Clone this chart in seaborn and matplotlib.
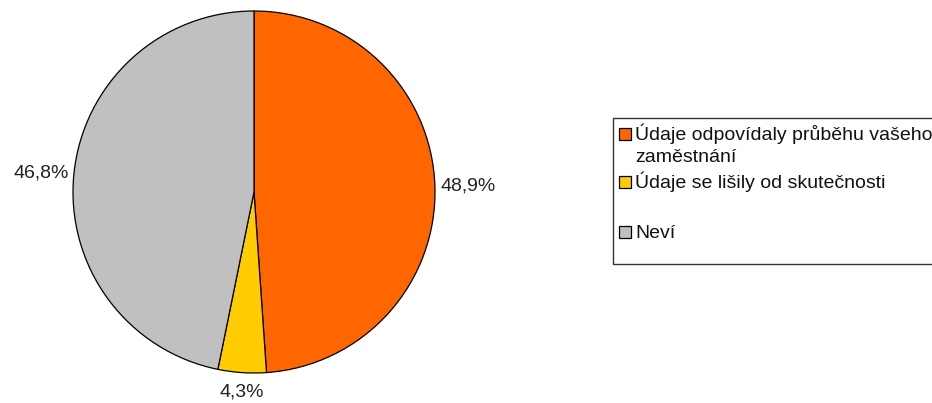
import matplotlib
matplotlib.use("Agg")
import matplotlib.pyplot as plt
from matplotlib.patches import Rectangle
import numpy as np
import seaborn as sns

categories = ["Údaje odpovídaly průběhu vašeho\nzaměstnání",
              "Údaje se lišily od skutečnosti",
              "Neví"]
values = [48.9, 4.3, 46.8]
value_labels = ["48,9%", "4,3%", "46,8%"]
colors = ["#FF6600", "#FFCC00", "#C0C0C0"]

sns.set_theme(style="white")
plt.rcParams['font.family'] = ['Liberation Sans', 'DejaVu Sans']

W, H = 932, 403
fig = plt.figure(figsize=(W / 100, H / 100), dpi=100)
fig.patch.set_facecolor("white")

def fx(px):
    return px / W

def fy(py):
    return 1 - py / H

cx, cy, r = 254, 192, 181
ax = fig.add_axes([fx(cx - r), fy(cy + r), 2 * r / W, 2 * r / H])
wedges, _ = ax.pie(values, colors=colors, startangle=90, counterclock=False,
                   radius=1.0,
                   wedgeprops=dict(edgecolor="black", linewidth=0.9))
ax.set_xlim(-1, 1)
ax.set_ylim(-1, 1)
ax.set_aspect("equal")
ax.axis("off")

for w, lab in zip(wedges, value_labels):
    ang = np.deg2rad((w.theta1 + w.theta2) / 2)
    c, s = np.cos(ang), np.sin(ang)
    rr = 1.03
    if abs(s) > 0.7:
        ha = "center"
        va = "top" if s < 0 else "bottom"
        rr = 1.06
    else:
        ha = "left" if c > 0 else "right"
        va = "center"
    ax.text(rr * c, rr * s, lab, ha=ha, va=va, fontsize=14, color="#222222",
            clip_on=False)

# legend frame
fig.add_artist(Rectangle((fx(612.5), fy(264)), fx(400), 146 / H,
                         transform=fig.transFigure, facecolor="white",
                         edgecolor="#333333", linewidth=1.0))
baselines = [140, 188, 238]
for lab, col, b in zip(categories, colors, baselines):
    sq = 12.5
    fig.add_artist(Rectangle((fx(618.5), fy(b - 6 + sq / 2)), sq / W, sq / H,
                             transform=fig.transFigure, facecolor=col,
                             edgecolor="black", linewidth=0.9))
    lines = lab.split("\n")
    for i, ln in enumerate(lines):
        fig.text(fx(635), fy(b + 22 * i), ln, ha="left", va="baseline",
                 fontsize=14, color="#111111")

fig.savefig("out.png", dpi=100, facecolor="white")
